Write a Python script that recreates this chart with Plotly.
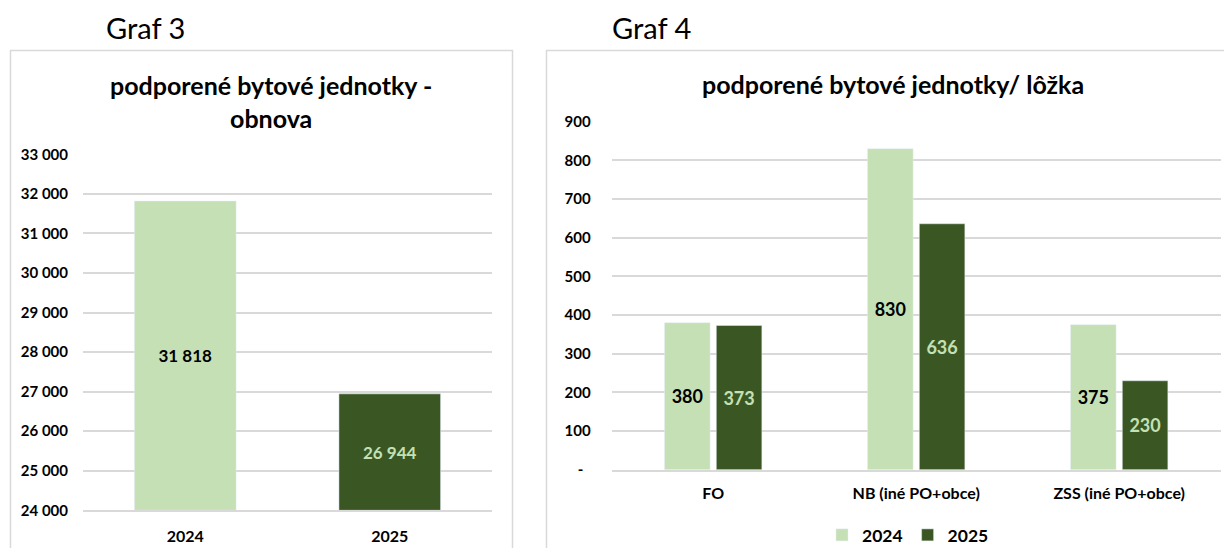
import plotly.graph_objects as go

# the page has the default 8px body margin, so the figure is a bit smaller
# than the window and all positions below are in window pixels
OFF = 8
W, H = 1232 - 2 * OFF, 556 - 2 * OFF

# Graf 3 - obnova
roky = ["2024", "2025"]
obnova = [31818, 26944]
obnova_min = 24000
obnova_ticks = [24000, 25000, 26000, 27000, 28000, 29000, 30000, 31000, 32000, 33000]
obnova_ticktext = ["24 000", "25 000", "26 000", "27 000", "28 000", "29 000", "30 000", "31 000", "32 000", "33 000"]

# Graf 4 - bytove jednotky / lozka
kategorie = ["FO", "NB (iné PO+obce)", "ZSS (iné PO+obce)"]
luzka_2024 = [380, 830, 375]
luzka_2025 = [373, 636, 230]
luzka_ticks = [0, 100, 200, 300, 400, 500, 600, 700, 800, 900]
luzka_ticktext = ["-\u00a0\u00a0", "100", "200", "300", "400", "500", "600", "700", "800", "900"]

LIGHT = "#C5E0B4"
DARK = "#3A5723"
GRID = "#D9D9D9"
FONT = "Lato"


def px(x):
    return (x - OFF) / W


def py(y):
    return 1 - (y - OFF) / H


def fmt(v):
    return f"{v:,}".replace(",", " ")


fig = go.Figure()

# left chart - bars start at the axis minimum like in excel
fig.add_trace(go.Bar(
    x=roky,
    y=[v - obnova_min for v in obnova],
    base=obnova_min,
    width=0.497,
    marker_color=[LIGHT, DARK],
    text=[fmt(v) for v in obnova],
    textposition="inside",
    insidetextanchor="middle",
    textfont=dict(family=FONT, size=17, weight="bold", color=["#000000", LIGHT]),
    xaxis="x", yaxis="y",
    showlegend=False,
))

# right chart
fig.add_trace(go.Bar(
    x=kategorie, y=luzka_2024, name="2024",
    marker_color=LIGHT,
    text=[str(v) for v in luzka_2024],
    textposition="inside", insidetextanchor="middle",
    textfont=dict(family=FONT, size=18, weight="bold", color="#000000"),
    xaxis="x2", yaxis="y2",
))
fig.add_trace(go.Bar(
    x=kategorie, y=luzka_2025, name="2025",
    marker_color=DARK,
    text=[str(v) for v in luzka_2025],
    textposition="inside", insidetextanchor="middle",
    textfont=dict(family=FONT, size=18, weight="bold", color=LIGHT),
    xaxis="x2", yaxis="y2",
))

tick_font = dict(family=FONT, size=15, weight="bold", color="#000000")
cat_font = dict(family=FONT, size=16, weight="bold", color="#000000")

fig.update_layout(
    width=W, height=H,
    # no automatic margin push from the legend
    margin=dict(l=0, r=0, t=0, b=0, autoexpand=False),
    paper_bgcolor="white", plot_bgcolor="white",
    font=dict(family=FONT, color="#000000"),
    barmode="group",
    bargap=0.49, bargroupgap=0.12,
    xaxis=dict(domain=[px(83), px(492)], anchor="y", showgrid=False,
               showline=True, linecolor=GRID, linewidth=1.5,
               tickfont=cat_font, ticklabelstandoff=11),
    yaxis=dict(domain=[py(510.3), py(154.3)], anchor="x",
               range=[obnova_min, 33000],
               tickvals=obnova_ticks, ticktext=obnova_ticktext,
               gridcolor=GRID, gridwidth=1.5, zeroline=False,
               tickfont=tick_font, ticklabelstandoff=14),
    xaxis2=dict(domain=[px(611.7), px(1220.7)], anchor="y2", showgrid=False,
                showline=True, linecolor=GRID, linewidth=1.5,
                tickfont=cat_font, ticklabelstandoff=8),
    yaxis2=dict(domain=[py(469.7), py(121.7)], anchor="x2",
                range=[0, 900],
                tickvals=luzka_ticks, ticktext=luzka_ticktext,
                gridcolor=GRID, gridwidth=1.5, zeroline=False,
                tickfont=tick_font, ticklabelstandoff=20),
    legend=dict(orientation="h", x=px(822), y=py(535), xanchor="left", yanchor="middle",
                font=dict(family=FONT, size=17.5, weight="bold"),
                itemwidth=30, traceorder="normal"),
    shapes=[
        dict(type="rect", xref="paper", yref="paper",
             x0=px(10.5), x1=px(512.5), y0=py(620), y1=py(50.5),
             line=dict(color=GRID, width=1.5), fillcolor="rgba(0,0,0,0)", layer="below"),
        dict(type="rect", xref="paper", yref="paper",
             x0=px(546.5), x1=px(1300), y0=py(620), y1=py(50.5),
             line=dict(color=GRID, width=1.5), fillcolor="rgba(0,0,0,0)", layer="below"),
    ],
    annotations=[
        dict(text="Graf 3", x=px(104), y=py(28), xref="paper", yref="paper",
             xanchor="left", yanchor="middle", showarrow=False,
             font=dict(family=FONT, size=29, color="#000000")),
        dict(text="Graf 4", x=px(610), y=py(28), xref="paper", yref="paper",
             xanchor="left", yanchor="middle", showarrow=False,
             font=dict(family=FONT, size=29, color="#000000")),
        dict(text="<b>podporené bytové jednotky -<br>obnova</b>", x=px(271), y=py(101),
             xref="paper", yref="paper", xanchor="center", yanchor="middle",
             showarrow=False, align="center",
             font=dict(family=FONT, size=25, color="#000000")),
        dict(text="<b>podporené bytové jednotky/ lôžka</b>", x=px(893), y=py(84),
             xref="paper", yref="paper", xanchor="center", yanchor="middle",
             showarrow=False,
             font=dict(family=FONT, size=25, color="#000000")),
    ],
)

fig.write_html("out.html")
